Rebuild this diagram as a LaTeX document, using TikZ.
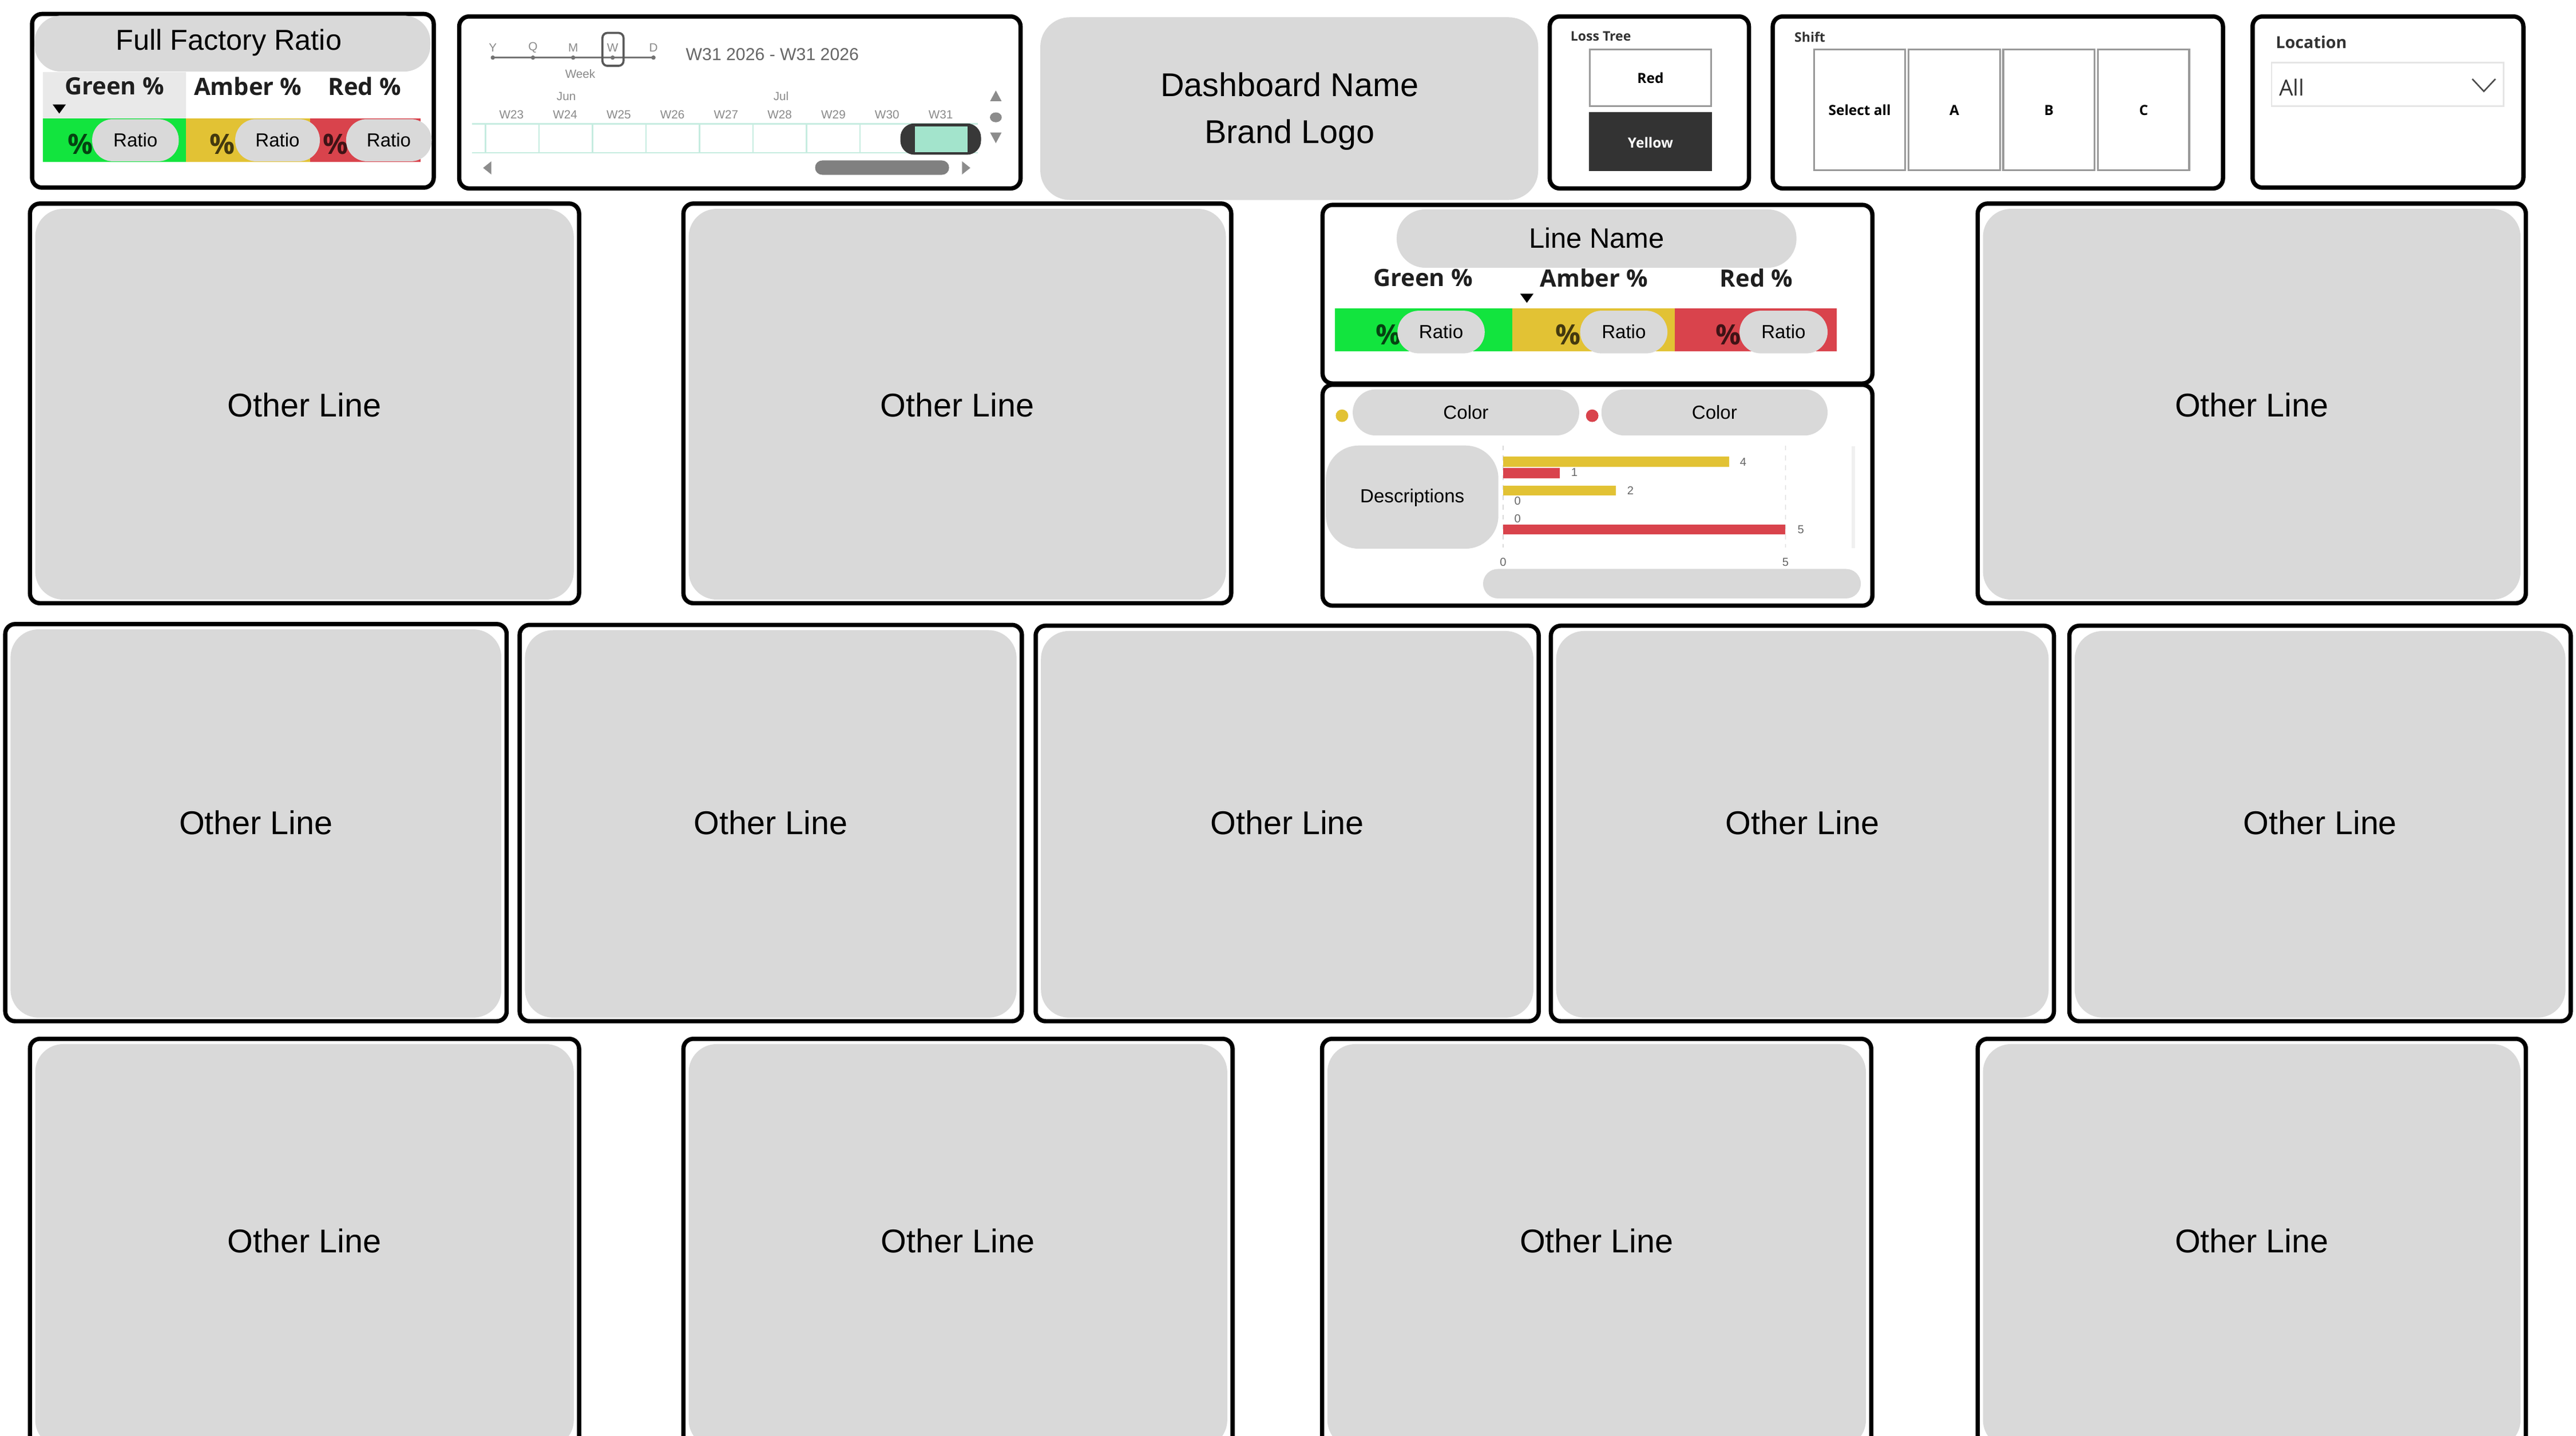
\documentclass[tikz,border=0pt]{standalone}
\usepackage{fontspec}
\setmainfont{Liberation Sans}
\newfontfamily\hdrfont{Open Sans}
\definecolor{dgrey}{HTML}{D9D9D9}
\definecolor{gbar}{HTML}{12E43E}
\definecolor{abar}{HTML}{E2C234}
\definecolor{rbar}{HTML}{D9434C}
\definecolor{hdrbg}{HTML}{E9E9E9}
\definecolor{tealfill}{HTML}{A3E4CC}
\definecolor{tline}{HTML}{C6ECE0}
\definecolor{tgrey}{HTML}{8A8A8A}
\definecolor{dkgrey}{HTML}{333333}
\newcommand\olbox[6]{%
  \draw[pborder] (#2,#3) rectangle (#4,#5);
  \fill[dgrey, rounded corners=17pt] (#2+3.2,#3+3.2) rectangle (#4-3.2,#5-2.2);
  \node[bigtxt] (#1) at ({(#2+#4)/2},#6) {Other Line};}
\begin{document}
\begin{tikzpicture}[x=1pt,y=-1pt,
  pborder/.style={draw=black, line width=2.6pt, rounded corners=6pt},
  bigtxt/.style={font=\fontsize{20}{24}\selectfont, inner sep=0pt},
  midtxt/.style={font=\fontsize{17.5}{20}\selectfont, inner sep=0pt},
  smtxt/.style={font=\fontsize{11.5}{13}\selectfont, inner sep=0pt},
  hdrtxt/.style={font=\hdrfont\bfseries\fontsize{14.5}{16}\selectfont, inner sep=0pt, text=black!88},
  pct/.style={font=\hdrfont\bfseries\fontsize{17}{19}\selectfont, inner sep=0pt, text=black, text opacity=0.7},
  tl/.style={font=\fontsize{7.2}{8}\selectfont, inner sep=0pt, text=tgrey},
  btn/.style={font=\hdrfont\bfseries\fontsize{8.5}{10}\selectfont, inner sep=0pt},
  lbl/.style={font=\hdrfont\bfseries\fontsize{8}{9}\selectfont, inner sep=0pt, text=dkgrey, anchor=west},
  chl/.style={font=\fontsize{7}{8}\selectfont, inner sep=0pt, text=black!60},
  pillfill/.style={fill=dgrey}
]
\useasboundingbox (0,0) rectangle (1565,872.2);
\fill[white] (0,0) rectangle (1565,872.2);

% ---------- Row 2 ----------
\olbox{r2a}{18.2}{123.7}{351.8}{366.5}{246}
\olbox{r2b}{415.2}{123.7}{748}{366.5}{246}
\olbox{r2d}{1201.5}{123.7}{1534.5}{366.5}{246}
% ---------- Row 3 ----------
\olbox{r3a}{3.2}{379.2}{307.8}{620.5}{500}
\olbox{r3b}{315.7}{379.7}{620.8}{620.5}{500}
\olbox{r3c}{629.2}{380.2}{934.8}{620.5}{500}
\olbox{r3d}{942.2}{380.2}{1247.8}{620.5}{500}
\olbox{r3e}{1257.2}{380.2}{1561.8}{620.5}{500}
% ---------- Row 4 ----------
\olbox{r4a}{18.2}{631.2}{351.8}{882}{754}
\olbox{r4b}{415.2}{631.2}{748.8}{882}{754}
\olbox{r4c}{803.2}{631.2}{1136.8}{882}{754}
\olbox{r4d}{1201.5}{631.2}{1534.5}{882}{754}

% ---------- Full Factory Ratio ----------
\draw[pborder, fill=white] (19.5,8.5) rectangle (263.5,114);
\fill[dgrey, rounded corners=16pt] (21,9.5) rectangle (261.5,43.5);
\node[midtxt, anchor=base] (fftitle) at (139,30.3) {Full Factory Ratio};
\fill[hdrbg] (26,43.8) rectangle (113,71.8);
\node[hdrtxt] (ffg) at (69.5,52.5) {Green \%};
\node[hdrtxt] (ffa) at (150.6,52.5) {Amber \%};
\node[hdrtxt] (ffr) at (221.5,52.5) {Red \%};
\fill (32,63.5) -- (40,63.5) -- (36,69) -- cycle;
\fill[gbar] (26,71.8) rectangle (113,98.5);
\fill[abar] (113,71.8) rectangle (188.4,98.5);
\fill[rbar] (188.4,71.8) rectangle (255.4,98.5);
\node[pct] (ffp1) at (49,87.5) {\%};
\node[pct] (ffp2) at (135,87.5) {\%};
\node[pct] (ffp3) at (204,87.5) {\%};
\fill[dgrey, rounded corners=12.5pt] (56,72.4) rectangle (108.6,98);
\fill[dgrey, rounded corners=12.5pt] (142.9,72.4) rectangle (194.3,98);
\fill[dgrey, rounded corners=12.5pt] (210.3,72.4) rectangle (262.2,98);
\node[smtxt] (ffq1) at (82.3,85) {Ratio};
\node[smtxt] (ffq2) at (168.6,85) {Ratio};
\node[smtxt] (ffq3) at (236.2,85) {Ratio};

% ---------- Timeline ----------
\draw[pborder, fill=white] (279,10) rectangle (620,114.5);
\draw[black!55, line width=1.1pt] (299.4,35) -- (397,35);
\foreach \xx in {299.4,323.8,348.2,372.2,397} \fill[black!55] (\xx,35) circle (1.3);
\node[tl] (tlY) at (299.4,29) {Y};
\node[tl] (tlQ) at (323.8,29) {Q};
\node[tl] (tlM) at (348.2,29) {M};
\node[tl] (tlW) at (372.2,29) {W};
\node[tl] (tlD) at (397,29) {D};
\draw[black!65, line width=1.3pt, rounded corners=3pt] (366,20) rectangle (378.8,40);
\node[tl] (tlweek) at (352.5,45) {Week};
\node[font=\fontsize{10.5}{12}\selectfont, inner sep=0pt, text=black!60, anchor=west] (tlrange) at (416.5,33) {W31 2026 - W31 2026};
\node[tl] (tljun) at (344,58.5) {Jun};
\node[tl] (tljul) at (474.5,58.5) {Jul};
\foreach \k/\w in {0/23,1/24,2/25,3/26,4/27,5/28,6/29,7/30,8/31}
  \node[tl] (tlw\w) at (310.7+32.6*\k,69.5) {W\w};
\draw[tline, line width=0.8pt] (286.8,75.3) -- (594,75.3);
\draw[tline, line width=0.8pt] (286.8,92.7) -- (594,92.7);
\foreach \k in {0,...,7} \draw[tline, line width=0.8pt] (295+32.5*\k,75.3) -- (295+32.5*\k,92.7);
\fill[black!78, rounded corners=8.5pt] (547,75) rectangle (596,94);
\fill[tealfill] (555.7,76.8) rectangle (587.7,92.4);
\fill[black!45] (601.5,61.5) -- (608.5,61.5) -- (605,55) -- cycle;
\fill[black!45] (605,71.3) ellipse (3.6 and 3);
\fill[black!45] (601.5,80.5) -- (608.5,80.5) -- (605,87) -- cycle;
\fill[black!45] (298.5,98) -- (298.5,106) -- (293.5,102) -- cycle;
\fill[black!50, rounded corners=4.3pt] (495.2,97.5) rectangle (576.6,106.2);
\fill[black!45] (584.5,98) -- (584.5,106) -- (589.5,102) -- cycle;

% ---------- Dashboard name ----------
\fill[dgrey, rounded corners=18pt] (632,10.5) rectangle (934.5,121.5);
\node[bigtxt, anchor=base] (dbname) at (783.5,58.5) {Dashboard Name};
\node[bigtxt, anchor=base] (dblogo) at (783.5,87) {Brand Logo};

% ---------- Loss Tree ----------
\draw[pborder, fill=white] (941.5,10) rectangle (1062.5,114.5);
\node[lbl] (ltlbl) at (954,22) {Loss Tree};
\draw[black!40, line width=1pt, fill=white] (966,30) rectangle (1039.5,64.5);
\node[btn] (ltred) at (1002.7,47.5) {Red};
\fill[dkgrey] (965.5,68) rectangle (1040,104);
\node[btn, text=white] (ltyel) at (1002.7,86.5) {Yellow};

% ---------- Shift ----------
\draw[pborder, fill=white] (1077,10) rectangle (1350.5,114.5);
\node[lbl] (shlbl) at (1090,22.5) {Shift};
\draw[black!40, line width=1.1pt] (1102,30) rectangle (1157.5,103.5);
\draw[black!40, line width=1.1pt] (1159.5,30) rectangle (1215,103.5);
\draw[black!40, line width=1.1pt] (1217,30) rectangle (1272.5,103.5);
\draw[black!40, line width=1.1pt] (1274.5,30) rectangle (1330,103.5);
\node[btn] (shall) at (1129.8,67) {Select all};
\node[btn] (sha) at (1187.3,67) {A};
\node[btn] (shb) at (1244.8,67) {B};
\node[btn] (shc) at (1302.3,67) {C};

% ---------- Location ----------
\draw[pborder, fill=white] (1368.5,10) rectangle (1533,114);
\node[lbl, font=\hdrfont\bfseries\fontsize{10}{12}\selectfont] (loclbl) at (1382.4,25.5) {Location};
\draw[black!10, line width=0.9pt] (1380,38) rectangle (1521,64.5);
\node[font=\hdrfont\fontsize{13.5}{15}\selectfont, inner sep=0pt, text=dkgrey, anchor=west] (locall) at (1384.5,53) {All};
\draw[black!70, line width=0.9pt] (1502,48) -- (1509,55.5) -- (1516,48);

% ---------- Line Name panel ----------
\draw[pborder, fill=white] (803.5,124.5) rectangle (1137.5,233);
\fill[dgrey, rounded corners=17.5pt] (848.5,127.2) rectangle (1091.4,162.7);
\node[midtxt, font=\fontsize{17}{20}\selectfont] (lnname) at (970,144.6) {Line Name};
\node[hdrtxt] (lng) at (864.5,168.8) {Green \%};
\node[hdrtxt] (lna) at (968.4,168.8) {Amber \%};
\node[hdrtxt] (lnr) at (1067,168.8) {Red \%};
\fill (923.6,178.5) -- (931.6,178.5) -- (927.6,184) -- cycle;
\fill[gbar] (811,187.5) rectangle (918.8,213.5);
\fill[abar] (918.8,187.5) rectangle (1017.5,213.5);
\fill[rbar] (1017.5,187.5) rectangle (1115.9,213.5);
\node[pct] (lnp1) at (843.5,203.5) {\%};
\node[pct] (lnp2) at (952.5,203.5) {\%};
\node[pct] (lnp3) at (1050,203.5) {\%};
\fill[dgrey, rounded corners=12.9pt] (849,188.8) rectangle (902,214.7);
\fill[dgrey, rounded corners=12.9pt] (960,188.8) rectangle (1013,214.7);
\fill[dgrey, rounded corners=12.9pt] (1056.8,188.8) rectangle (1110.3,214.7);
\node[smtxt] (lnq1) at (875.5,201.5) {Ratio};
\node[smtxt] (lnq2) at (986.5,201.5) {Ratio};
\node[smtxt] (lnq3) at (1083.5,201.5) {Ratio};

% ---------- Chart panel ----------
\draw[pborder, fill=white] (803.5,233.8) rectangle (1137.5,368);
\fill[abar] (815.3,252.6) circle (3.8);
\fill[rbar] (967.3,252.6) circle (3.8);
\fill[dgrey, rounded corners=14pt] (821.8,236.6) rectangle (959.4,264.6);
\fill[dgrey, rounded corners=14pt] (972.9,236.6) rectangle (1110.3,264.6);
\node[smtxt] (chc1) at (890.6,250.5) {Color};
\node[smtxt] (chc2) at (1041.6,250.5) {Color};
\draw[black!15, line width=0.6pt, dashed] (913.2,270.7) -- (913.2,332.6);
\draw[black!15, line width=0.6pt, dashed] (1084.7,270.7) -- (1084.7,332.6);
\draw[black!6, line width=2pt] (1126,271) -- (1126,333);
\fill[abar] (913.2,277.3) rectangle (1050.4,283.6);
\fill[rbar] (913.2,284.4) rectangle (947.5,290.5);
\fill[abar] (913.2,295) rectangle (981.8,301.2);
\fill[rbar] (913.2,318.6) rectangle (1084.7,324.8);
\node[chl] (chv4) at (1059,280.6) {4};
\node[chl] (chv1) at (956.5,287) {1};
\node[chl] (chv2) at (990.5,298) {2};
\node[chl] (chv0a) at (922,304.3) {0};
\node[chl] (chv0b) at (922,315) {0};
\node[chl] (chv5) at (1094,321.9) {5};
\node[chl] (chx0) at (913.2,341.6) {0};
\node[chl] (chx5) at (1084.7,341.6) {5};
\fill[dgrey, rounded corners=20pt] (805.5,270.7) rectangle (910.3,333.4);
\node[smtxt, anchor=base] (chdesc) at (858,305.4) {Descriptions};
\fill[dgrey, rounded corners=9pt] (901,345.7) rectangle (1130.5,363.6);
\end{tikzpicture}
\end{document}
